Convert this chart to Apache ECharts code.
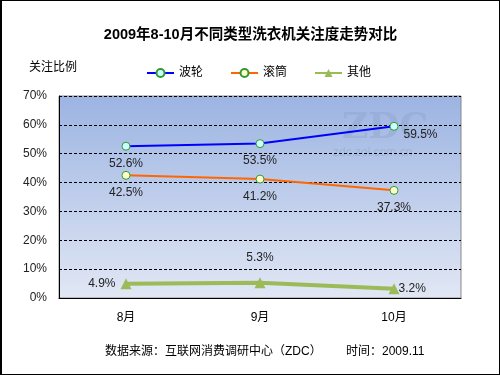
<!DOCTYPE html>
<html>
<head>
<meta charset="utf-8">
<script src="https://cdn.jsdelivr.net/npm/echarts@6/dist/echarts.min.js"></script>
<style>
  html, body { margin: 0; padding: 0; background: #fff; }
  #data-chart {
    width: 500px;
    height: 375px;
    box-sizing: border-box;
    border: 1px solid #000;
    border-left-width: 2px;
  }
</style>
</head>
<body>
<div id="data-chart"></div>
<script>
const months = ['8月', '9月', '10月']
const bolun = [52.6, 53.5, 59.5]
const guntong = [42.5, 41.2, 37.3]
const qita = [4.9, 5.3, 3.2]
const yTicks = [0, 10, 20, 30, 40, 50, 60, 70]

const font = '"Liberation Sans", "Noto Sans CJK SC", sans-serif'
const chart = echarts.init(document.getElementById('data-chart'))

let option = {
  animation: false,
  textStyle: { fontFamily: font },
  title: {
    text: '2009年8-10月不同类型洗衣机关注度走势对比',
    left: 'center',
    top: 22,
    textStyle: { fontSize: 14.5, fontWeight: 'bold', color: '#000', fontFamily: font }
  },
  legend: {
    top: 61,
    left: 139,
    itemGap: 27,
    itemWidth: 27,
    itemHeight: 10,
    textStyle: { fontSize: 12, color: '#000' },
    data: ['波轮', '滚筒', '其他']
  },
  graphic: [
    { type: 'text', left: 27, top: 61, style: { text: '关注比例', fill: '#000', font: '12px ' + font } },
    { type: 'text', left: 103, top: 345, style: { text: '数据来源：互联网消费调研中心（ZDC）', fill: '#000', font: '12px ' + font } },
    { type: 'text', left: 344, top: 345, style: { text: '时间：2009.11', fill: '#000', font: '12px ' + font } },
    { type: 'text', left: 340, top: 110, style: { text: 'ZDC', fill: 'rgba(140,160,200,0.4)', font: 'bold 36px "DejaVu Serif", serif' } },
    { type: 'text', left: 331, top: 146, style: { text: 'zdc.zol.com.cn', fill: 'rgba(140,160,200,0.45)', font: '12px ' + font } }
  ],
  grid: {
    left: 57,
    right: 38,
    top: 95,
    bottom: 76,
    show: true,
    borderColor: '#888',
    borderWidth: 1,
    backgroundColor: new echarts.graphic.LinearGradient(0, 0, 0, 1, [
      { offset: 0, color: '#9cb4e2' },
      { offset: 1, color: '#e1e7f4' }
    ])
  },
  xAxis: {
    type: 'category',
    data: months,
    boundaryGap: true,
    axisLine: { lineStyle: { color: '#000', width: 1 } },
    axisTick: { length: 4, inside: true, lineStyle: { color: '#000' } },
    axisLabel: { margin: 14, fontSize: 12, color: '#000' }
  },
  yAxis: {
    type: 'value',
    min: yTicks[0],
    max: yTicks[yTicks.length - 1],
    interval: 10,
    axisLine: { show: true, lineStyle: { color: '#000' } },
    axisTick: { show: false },
    axisLabel: { formatter: '{value}%', fontSize: 12, color: '#222', margin: 12 },
    splitLine: { lineStyle: { color: '#000', type: [3, 2], width: 1 } }
  },
  series: [
    {
      name: '波轮',
      type: 'line',
      data: bolun,
      symbol: 'circle',
      symbolSize: 8,
      lineStyle: { color: '#0000ff', width: 2 },
      itemStyle: { color: '#ccffff', borderColor: '#339933', borderWidth: 1 },
      label: { show: true, formatter: '{c}%', fontSize: 12, color: '#222', distance: 7 },
      z: 4
    },
    {
      name: '滚筒',
      type: 'line',
      data: guntong,
      symbol: 'circle',
      symbolSize: 8,
      lineStyle: { color: '#ff6600', width: 2 },
      itemStyle: { color: '#ffffcc', borderColor: '#339933', borderWidth: 1 },
      label: { show: true, formatter: '{c}%', fontSize: 12, color: '#222', position: 'bottom', distance: 7 },
      z: 3
    },
    {
      name: '其他',
      type: 'line',
      data: qita,
      symbol: 'triangle',
      symbolSize: 11,
      lineStyle: { color: '#9bbb59', width: 4 },
      itemStyle: { color: '#9bbb59' },
      label: { show: true, formatter: '{c}%', fontSize: 12, color: '#222' },
      z: 2
    }
  ]
}

// per-point label placement as in the picture
option.series[0].data = bolun.map((v, i) => ({
  value: v,
  label: { position: i === 2 ? 'right' : 'bottom', offset: i === 2 ? [-2, 8] : [0, 0] }
}))
option.series[2].data = qita.map((v, i) => ({
  value: v,
  label: i === 0 ? { position: 'left' } : i === 1 ? { position: 'top', distance: 14 } : { position: 'right', offset: [-6, 0] }
}))

chart.setOption(option)
</script>
</body>
</html>
